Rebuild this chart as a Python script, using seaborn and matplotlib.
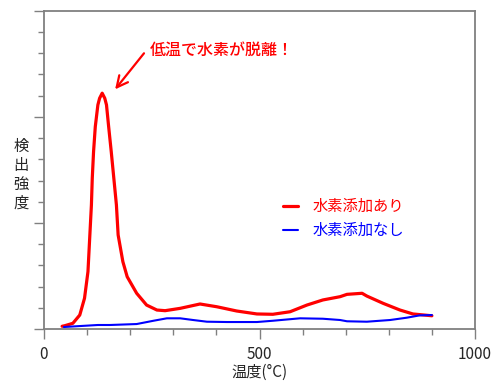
import matplotlib
matplotlib.use('Agg')
import matplotlib.pyplot as plt
import pandas as pd
import seaborn as sns
from matplotlib.ticker import MultipleLocator

sns.set_style('white')
plt.rcParams['font.family'] = ['Noto Sans CJK JP', 'DejaVu Sans']

# Red curve: with hydrogen added (temperature in degC, intensity arbitrary)
temp_h = [42, 48, 67, 83, 94, 102, 106, 110, 112, 115, 119, 125, 129, 135, 141,
          145, 150, 156, 162, 168, 172, 183, 193, 215, 238, 262, 281, 316, 362,
          401, 447, 494, 531, 571, 610, 647, 687, 703, 738, 749, 787, 826, 856, 900]
signal_h = [0.026, 0.031, 0.054, 0.132, 0.290, 0.541, 0.856, 1.170, 1.422, 1.673,
            1.908, 2.113, 2.176, 2.224, 2.176, 2.113, 1.908, 1.673, 1.422, 1.170,
            0.887, 0.635, 0.493, 0.337, 0.226, 0.179, 0.173, 0.195, 0.236, 0.210,
            0.170, 0.142, 0.139, 0.163, 0.226, 0.274, 0.305, 0.327, 0.337, 0.311,
            0.242, 0.179, 0.142, 0.125]

# Blue curve: without hydrogen
temp_n = [46, 125, 153, 215, 254, 285, 316, 346, 378, 424, 494, 531, 594, 647,
          687, 703, 749, 803, 842, 872, 900]
signal_n = [0.019, 0.038, 0.038, 0.047, 0.078, 0.101, 0.101, 0.085, 0.069, 0.066,
            0.066, 0.078, 0.101, 0.097, 0.085, 0.073, 0.069, 0.085, 0.107, 0.129,
            0.132]

label_h = '水素添加あり'
label_n = '水素添加なし'
note = '低温で水素が脱離！'

df_h = pd.DataFrame({'temp': temp_h, 'signal': signal_h})
df_n = pd.DataFrame({'temp': temp_n, 'signal': signal_n})

fig = plt.figure(figsize=(5, 3.88), dpi=100)
ax = fig.add_axes([0.088, 0.152, 0.862, 0.82])

sns.lineplot(data=df_h, x='temp', y='signal', ax=ax, color='#ff0000',
             linewidth=2.3, label=label_h, sort=False, solid_joinstyle='round')
sns.lineplot(data=df_n, x='temp', y='signal', ax=ax, color='#0000ff',
             linewidth=1.5, label=label_n, sort=False, solid_joinstyle='round')

ax.set_xlim(0, 1000)
ax.set_ylim(0, 3)
ax.xaxis.set_major_locator(MultipleLocator(500))
ax.xaxis.set_minor_locator(MultipleLocator(100))
ax.yaxis.set_major_locator(MultipleLocator(1))
ax.yaxis.set_minor_locator(MultipleLocator(0.2))
ax.set_yticklabels([])

grey = '#808080'
for s in ax.spines.values():
    s.set_color(grey)
    s.set_linewidth(1.3)
ax.tick_params(which='major', direction='out', length=7, width=1, color=grey,
               labelsize=11, pad=5, bottom=True, left=True)
ax.tick_params(which='minor', direction='out', length=4, width=1, color=grey,
               bottom=True, left=True)

ax.set_xlabel('温度(°C)', fontsize=11, labelpad=1)
ax.set_ylabel('')
fig.text(0.042, 0.55, '検\n出\n強\n度', fontsize=11, ha='center', va='center',
         linespacing=1.15)

# annotation arrow and text
ax.annotate('', xy=(165, 2.26), xytext=(232, 2.60),
            arrowprops=dict(arrowstyle='->', color='#ff0000', lw=1.6,
                            shrinkA=0, shrinkB=0, mutation_scale=20))
ax.text(246, 2.63, note, fontsize=11.5, color='#ff0000', fontweight='medium',
        ha='left', va='center')

leg = ax.legend(loc='center left', bbox_to_anchor=(0.555, 0.347), frameon=False,
                fontsize=11, handlelength=1.0, handletextpad=0.9,
                labelspacing=0.45, borderpad=0, borderaxespad=0,
                labelcolor='linecolor')

fig.savefig('out.png', dpi=100)
